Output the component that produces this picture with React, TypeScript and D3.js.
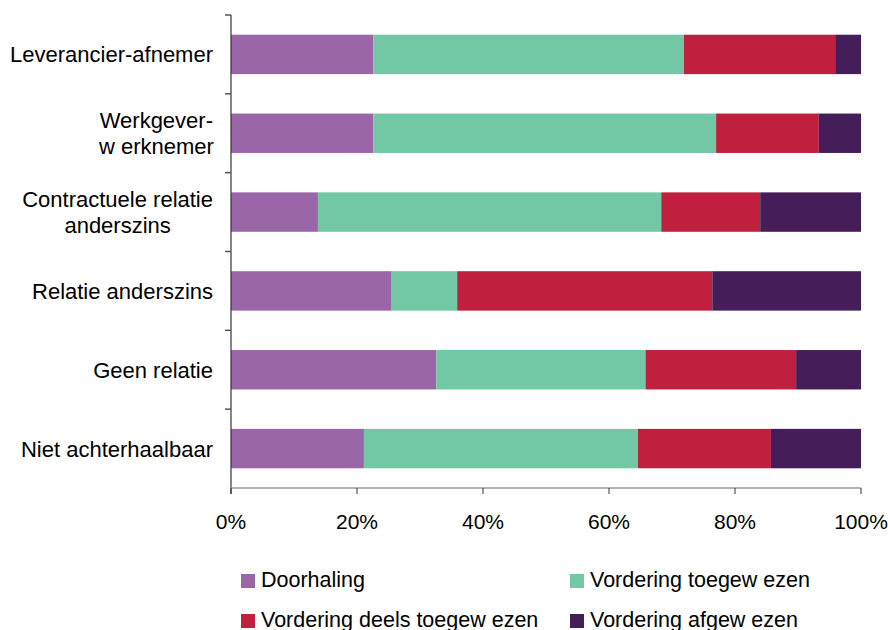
import React, { useEffect, useRef } from "react";
import * as d3 from "d3";

const categories = [
  "Leverancier-afnemer",
  "Werkgever-\nw erknemer",
  "Contractuele relatie\nanderszins",
  "Relatie anderszins",
  "Geen relatie",
  "Niet achterhaalbaar",
];
const seriesNames = [
  "Doorhaling",
  "Vordering toegew ezen",
  "Vordering deels toegew ezen",
  "Vordering afgew ezen",
];
const doorhaling = [22.6, 22.6, 13.8, 25.5, 32.6, 21.1];
const toegewezen = [49.3, 54.4, 54.5, 10.4, 33.2, 43.5];
const deelsToegewezen = [24.0, 16.3, 15.7, 40.5, 23.9, 21.1];
const afgewezen = [4.1, 6.7, 16.0, 23.6, 10.3, 14.3];
const colors = ["#9B66A8", "#72C8A4", "#C01F3D", "#451E59"];
const xTicks = [0, 20, 40, 60, 80, 100];

export default function App() {
  const ref = useRef<SVGSVGElement>(null);
  useEffect(() => {
    const svg = d3.select(ref.current);
    svg.selectAll("*").remove();
    const font = "'Liberation Sans', Arial, sans-serif";
    const left = 231, right = 861, top = 15, bottom = 488;
    const x = d3.scaleLinear().domain([0, 100]).range([left, right]);
    const y = d3.scaleBand().domain(categories).range([top, bottom]).paddingInner(0.5).paddingOuter(0.25);
    const rows = categories.map((c, i) => ({
      cat: c,
      s0: doorhaling[i],
      s1: toegewezen[i],
      s2: deelsToegewezen[i],
      s3: afgewezen[i],
    }));
    const stack = d3.stack<any>().keys(["s0", "s1", "s2", "s3"]);
    const stacked = stack(rows);
    const g = svg.append("g");
    stacked.forEach((layer, li) => {
      g.selectAll(null)
        .data(layer)
        .enter()
        .append("rect")
        .attr("x", (d) => x(d[0]))
        .attr("width", (d) => x(Math.min(100, d[1])) - x(d[0]))
        .attr("y", (d) => y((d.data as any).cat)!)
        .attr("height", y.bandwidth())
        .attr("fill", colors[li]);
    });
    // y axis
    svg.append("line").attr("x1", left).attr("x2", left).attr("y1", top).attr("y2", bottom + 6)
      .attr("stroke", "#333").attr("stroke-width", 1.2);
    const step = (bottom - top) / categories.length;
    for (let i = 0; i <= categories.length - 1; i++) {
      const yy = top + i * step;
      svg.append("line").attr("x1", left - 6).attr("x2", left).attr("y1", yy).attr("y2", yy)
        .attr("stroke", "#555").attr("stroke-width", 1.5);
    }
    // x axis
    svg.append("line").attr("x1", left).attr("x2", right).attr("y1", bottom).attr("y2", bottom)
      .attr("stroke", "#999").attr("stroke-width", 1.5);
    xTicks.forEach((t) => {
      svg.append("line").attr("x1", x(t)).attr("x2", x(t)).attr("y1", bottom).attr("y2", bottom + 6)
        .attr("stroke", "#333").attr("stroke-width", 1);
      svg.append("text").attr("x", x(t)).attr("y", 529).attr("text-anchor", "middle")
        .attr("font-family", font).attr("font-size", 21).attr("fill", "#000").text(t + "%");
    });
    // category labels
    categories.forEach((c) => {
      const lines = c.split("\n");
      const cy = y(c)! + y.bandwidth() / 2;
      const lh = 26;
      const t = svg.append("text").attr("font-family", font).attr("font-size", 22).attr("fill", "#000");
      if (lines.length === 1) {
        t.attr("x", 213).attr("y", cy + 8).attr("text-anchor", "end").text(c);
      } else {
        const first = t.append("tspan").text(lines[0]);
        const w = (first.node() as SVGTSpanElement).getComputedTextLength();
        const cx = 213 - w / 2;
        t.attr("text-anchor", "middle");
        lines.forEach((ln, k) => {
          const sp = k === 0 ? first : t.append("tspan").text(ln);
          sp.attr("x", cx).attr("y", cy + 8 + (k - (lines.length - 1) / 2) * lh);
        });
      }
    });
    // legend
    const legPos = [
      [241, 587],
      [570, 587],
      [241, 627],
      [570, 627],
    ];
    seriesNames.forEach((s, i) => {
      const [lx, ly] = legPos[i];
      svg.append("rect").attr("x", lx).attr("y", ly - 13).attr("width", 14).attr("height", 14).attr("fill", colors[i]);
      svg.append("text").attr("x", lx + 20).attr("y", ly).attr("font-family", font).attr("font-size", 21.5)
        .attr("fill", "#000").text(s);
    });
  }, []);
  return (
    <svg ref={ref} width={888} height={630} style={{ position: "absolute", left: 0, top: 0, background: "#fff" }} />
  );
}
